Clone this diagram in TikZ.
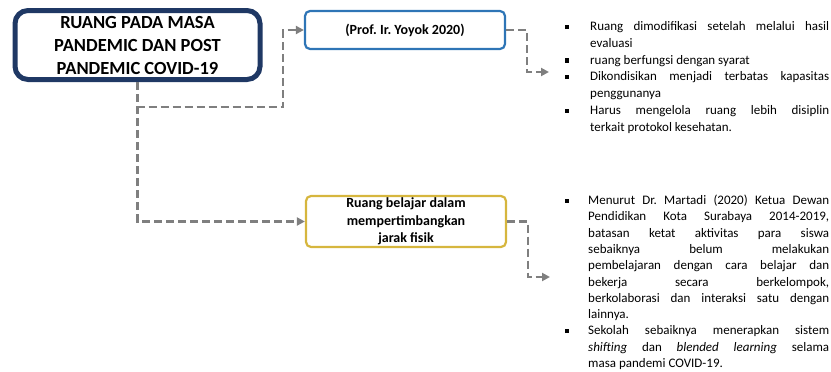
\documentclass[tikz,border=0pt]{standalone}
\usepackage{fontspec}
\setmainfont{Carlito}
\usepackage{enumitem}
\usetikzlibrary{arrows.meta}
\definecolor{navy}{HTML}{1F3864}
\definecolor{boxblue}{HTML}{2E75B6}
\definecolor{gold}{HTML}{D6B63E}
\definecolor{linegray}{HTML}{7F7F7F}
\setlist[itemize]{leftmargin=30pt,labelsep=21pt,itemsep=0pt,topsep=0pt,parsep=0pt,partopsep=0pt,
  label=\raisebox{1.8pt}{\rule{4pt}{4pt}}}
\frenchspacing

\begin{document}
\begin{tikzpicture}[x=1pt,y=-1pt,
  conn/.style={draw=linegray,line width=2.4pt,dash pattern=on 8pt off 4pt,
    -{Triangle[length=8pt,width=8pt]}},
  headbox/.style={draw=navy,line width=5pt,rounded corners=13pt,align=center,
    font=\fontsize{18.5}{23}\selectfont\bfseries,minimum width=245pt,minimum height=69pt,inner sep=0pt},
  topicbox/.style={line width=2.2pt,rounded corners=5pt,align=center,
    font=\fontsize{14}{17.5}\selectfont\bfseries,minimum width=200pt,inner sep=0pt},
  listtext/.style={anchor=north west,inner sep=0pt,text width=269pt,align=justify}]
\useasboundingbox (0,0) rectangle (831,372);
\node[headbox] (main) at (137.5,45) {RUANG PADA MASA\\PANDEMIC DAN POST\\PANDEMIC COVID-19};
\node[topicbox,draw=boxblue,minimum height=38pt] (prof) at (405,30) {(Prof. Ir. Yoyok 2020)};
\node[topicbox,draw=gold,minimum height=51pt] (belajar) at (406,221.5) {Ruang belajar dalam\\mempertimbangkan\\jarak fisik};

\coordinate (k1) at (283,107);
\coordinate (p1) at (549,72);
\coordinate (p2) at (550,277);

\draw[conn] (main.south) |- (k1) |- (prof.west);
\draw[conn] (main.south) |- (belajar.west);
\draw[conn] (prof.east) -- ++(21,0) |- (p1);
\draw[conn] (belajar.east) -- ++(21,0) |- (p2);

\node[listtext,font=\fontsize{13}{16.7}\selectfont] (list1) at (560,14) {\hyphenpenalty=10000
\begin{itemize}
\item Ruang dimodifikasi setelah melalui hasil\linebreak evaluasi
\item ruang berfungsi dengan syarat
\item Dikondisikan menjadi terbatas kapasitas\linebreak penggunanya
\item Harus mengelola ruang lebih disiplin\linebreak terkait protokol kesehatan.
\end{itemize}};
\node[listtext,font=\fontsize{13}{16.3}\selectfont] (list2) at (560,188) {\hyphenpenalty=10000
\begin{itemize}[leftmargin=28pt,labelsep=19pt]
\item Menurut Dr. Martadi (2020) Ketua Dewan\linebreak Pendidikan Kota Surabaya 2014-2019,\linebreak
batasan ketat aktivitas para siswa\linebreak sebaiknya belum melakukan\linebreak
pembelajaran dengan cara belajar dan\linebreak bekerja secara berkelompok,\linebreak
berkolaborasi dan interaksi satu dengan\linebreak lainnya.
\item Sekolah sebaiknya menerapkan sistem\linebreak \emph{shifting} dan \emph{blended learning} selama\linebreak masa pandemi COVID-19.
\end{itemize}};
\end{tikzpicture}
\end{document}
